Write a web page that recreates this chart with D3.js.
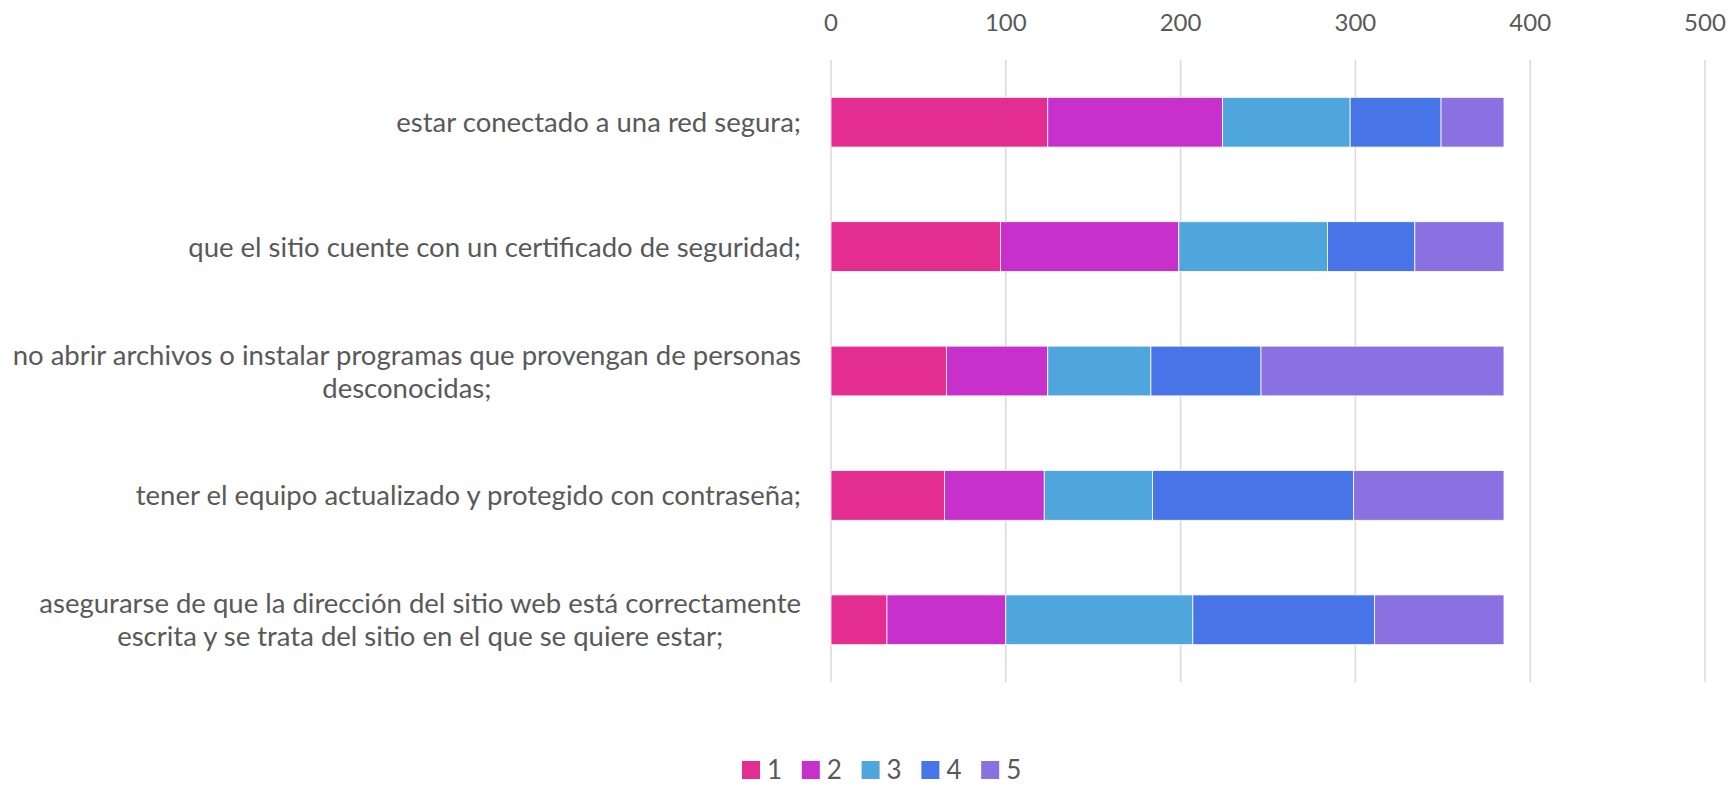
<!DOCTYPE html>
<html>
<head>
<meta charset="utf-8">
<script src="https://cdn.jsdelivr.net/npm/d3@7"></script>
<style>
  body { margin: 0; background: #fff; }
  text { font-family: Lato, "Open Sans", sans-serif; fill: #595959; }
</style>
</head>
<body>
<svg id="chart" width="1732" height="787"></svg>
<script>
"use strict";

const categories = [
	"estar conectado a una red segura;",
	"que el sitio cuente con un certificado de seguridad;",
	"no abrir archivos o instalar programas que provengan de personas\ndesconocidas;",
	"tener el equipo actualizado y protegido con contraseña;",
	"asegurarse de que la dirección del sitio web está correctamente\nescrita y se trata del sitio en el que se quiere estar;"
]
const seriesNames = ["1", "2", "3", "4", "5"]
const s1 = [124, 97, 66, 65, 32]
const s2 = [100, 102, 58, 57, 68]
const s3 = [73, 85, 59, 62, 107]
const s4 = [52, 50, 63, 115, 104]
const s5 = [36, 51, 139, 86, 74]
const ticks = [0, 100, 200, 300, 400, 500]
const colors = ["#E32D91", "#C830CC", "#4EA6DC", "#4775E7", "#8971E1"]

const svg = d3.select("#chart")
const plotTop = 60, plotBottom = 682, plotLeft = 831, plotRight = 1705

const rows = categories.map((c, i) => ({cat: c, "1": s1[i], "2": s2[i], "3": s3[i], "4": s4[i], "5": s5[i]}))
const stacked = d3.stack().keys(seriesNames)(rows)

const x = d3.scaleLinear().domain([0, 500]).range([plotLeft, plotRight])
const y = d3.scaleBand().domain(categories).range([plotTop, plotBottom]).paddingInner(0.6).paddingOuter(0.3)

// gridlines
svg.append("g").selectAll("line").data(ticks).join("line")
	.attr("x1", d => x(d)).attr("x2", d => x(d))
	.attr("y1", plotTop).attr("y2", plotBottom)
	.attr("stroke", "#d9d9d9").attr("stroke-width", 1.5)

// tick labels on top
svg.append("g").selectAll("text").data(ticks).join("text")
	.attr("x", d => x(d)).attr("y", 31)
	.attr("text-anchor", "middle")
	.style("font-size", "24px")
	.text(d => d)

// bars
svg.append("g").selectAll("g").data(stacked).join("g")
	.attr("fill", (d, i) => colors[i])
	.selectAll("rect").data(d => d).join("rect")
	.attr("x", d => x(d[0]))
	.attr("width", d => x(d[1]) - x(d[0]))
	.attr("y", d => y(d.data.cat))
	.attr("height", y.bandwidth())
	.attr("stroke", "#fff").attr("stroke-width", 0.8)

// category labels, each block right aligned, lines centred in the block
const labelRight = 801, lineH = 33
const lab = svg.append("g").selectAll("g").data(categories).join("g")
lab.each(function(c) {
	const g = d3.select(this)
	const lines = c.split("\n")
	const cy = y(c) + y.bandwidth() / 2
	const ts = lines.map((l, k) => g.append("text")
		.style("font-size", "27.5px")
		.attr("text-anchor", "middle")
		.attr("y", cy + (k - (lines.length - 1) / 2) * lineH + 10)
		.text(l))
	const w = d3.max(ts, t => t.node().getComputedTextLength())
	ts.forEach(t => t.attr("x", labelRight - w / 2))
})

// legend
const leg = svg.append("g").selectAll("g").data(seriesNames).join("g")
	.attr("transform", (d, i) => `translate(${742 + i * 59.8}, 761)`)
leg.append("rect").attr("width", 18).attr("height", 18).attr("fill", (d, i) => colors[i])
leg.append("text").attr("x", 25).attr("y", 18).style("font-size", "26px").text(d => d)
</script>
</body>
</html>
